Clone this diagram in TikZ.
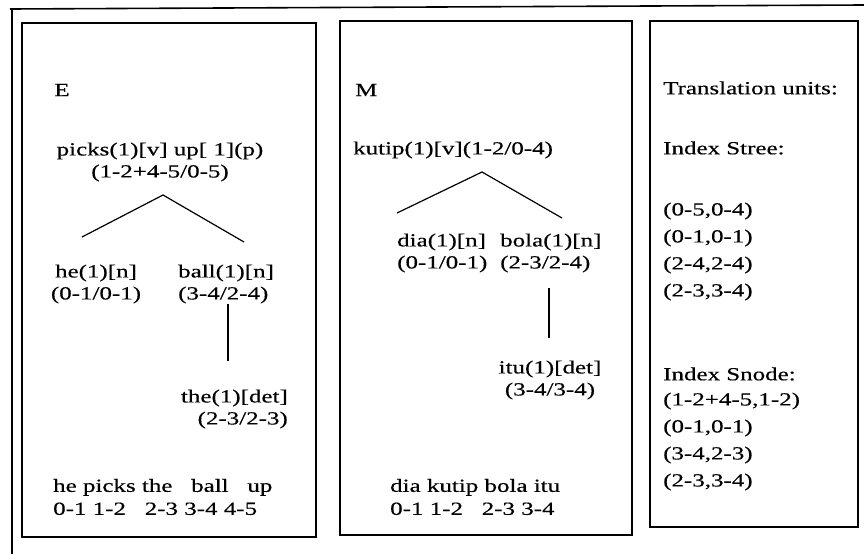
\documentclass[tikz,border=0pt]{standalone}
\usepackage{fontspec}
\setmainfont{Liberation Serif}[FakeStretch=1.35,FakeBold=0.4]
\begin{document}
\begin{tikzpicture}[x=1pt,y=-1pt,
  frame/.style={line width=1.6pt},
  panel/.style={draw,line width=1.4pt},
  lbl/.style={inner sep=0pt,font=\fontsize{18.5}{22}\selectfont},
  tnode/.style={lbl,align=center},
  lnode/.style={lbl,align=left,anchor=west},
  rnode/.style={lbl,align=right,anchor=east},
  branch/.style={line width=1.2pt}]
\useasboundingbox (0,0) rectangle (864,554);

% outer frame (top and left edges only)
\draw[frame] (10,9) -- (864,5);
\draw[frame] (12,8) -- (12,554);

% three panels
\draw[panel] (22,23) rectangle (316,537);
\draw[panel] (340,21) rectangle (632,535);
\draw[panel] (650,21) rectangle (858,527);

% ---- English tree ----
\node[lbl] (E) at (62,90) {E};
\node[tnode] (ep) at (160,162) {picks(1)[v] up[ 1](p)\\(1-2+4-5/0-5)};
\node[tnode] (he) at (96,284) {he(1)[n]\\(0-1/0-1)};
\node[lnode] (ball) at (178,284) {ball(1)[n]\\(3-4/2-4)};
\node[rnode] (the) at (288,409) {the(1)[det]\\(2-3/2-3)};
\coordinate (eTop) at (163,195);
\coordinate (eL) at (82,237);
\coordinate (eR) at (244,242);
\coordinate (eV1) at (228,304);
\coordinate (eV2) at (228,361);
\draw[branch] (eL) -- (eTop) -- (eR);
\draw[branch] (eV1) -- (eV2);
\node[lnode] (esent) at (53,497) {he picks the\ \ \ ball\ \ \ up\\[1pt]0-1 1-2\ \ \ 2-3 3-4 4-5};

% ---- Malay tree ----
\node[lnode] (M) at (355,90) {M};
\node[lnode] (mp) at (353,150) {kutip(1)[v](1-2/0-4)};
\node[lnode] (dia) at (397,253) {dia(1)[n]\\(0-1/0-1)};
\node[lnode] (bola) at (500,253) {bola(1)[n]\\(2-3/2-4)};
\node[tnode] (itu) at (550,380) {itu(1)[det]\\(3-4/3-4)};
\coordinate (mTop) at (482,172);
\coordinate (mL) at (397,213);
\coordinate (mR) at (562,218);
\coordinate (mV1) at (549,288);
\coordinate (mV2) at (549,338);
\draw[branch] (mL) -- (mTop) -- (mR);
\draw[branch] (mV1) -- (mV2);
\node[lnode] (msent) at (390,497) {dia kutip bola itu\\[1pt]0-1 1-2\ \ \ 2-3 3-4};

% ---- translation units ----
\node[lnode] (tu) at (663,88) {Translation units:};
\node[lnode] (is) at (663,148) {Index Stree:};
\node[lnode] (s1) at (663,211) {(0-5,0-4)};
\node[lnode] (s2) at (663,238) {(0-1,0-1)};
\node[lnode] (s3) at (663,265) {(2-4,2-4)};
\node[lnode] (s4) at (663,292) {(2-3,3-4)};
\node[lnode] (in) at (663,374) {Index Snode:};
\node[lnode] (n1) at (663,401) {(1-2+4-5,1-2)};
\node[lnode] (n2) at (663,428) {(0-1,0-1)};
\node[lnode] (n3) at (663,455) {(3-4,2-3)};
\node[lnode] (n4) at (663,482) {(2-3,3-4)};
\end{tikzpicture}
\end{document}
